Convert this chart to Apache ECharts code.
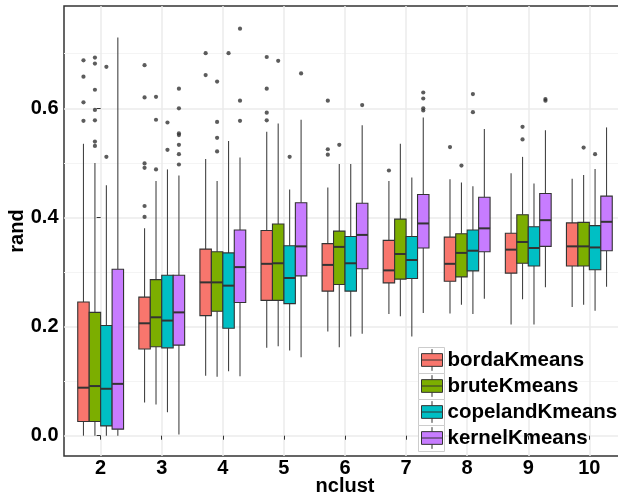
<!DOCTYPE html>
<html><head><meta charset="utf-8">
<script src="https://cdn.jsdelivr.net/npm/echarts@6/dist/echarts.min.js"></script>
<style>html,body{margin:0;padding:0;background:#fff}#c{width:618px;height:500px}</style>
</head><body><div id="c"></div>
<script>
const categories = ['2','3','4','5','6','7','8','9','10'];
const methods = ['bordaKmeans','bruteKmeans','copelandKmeans','kernelKmeans'];
const colors = ['#F8766D','#7CAE00','#00BFC4','#C77CFF'];
const yTicks = [0, 0.2, 0.4, 0.6];
const yMinorTicks = [0.1, 0.3, 0.5, 0.7];

// per category: [lower whisker, Q1, median, Q3, upper whisker]
const bordaStats = [
  [0.000,0.026,0.088,0.245,0.535],[0.061,0.159,0.206,0.254,0.380],[0.110,0.220,0.281,0.342,0.507],
  [0.161,0.248,0.315,0.376,0.557],[0.191,0.265,0.313,0.352,0.455],[0.223,0.280,0.303,0.358,0.467],
  [0.224,0.283,0.315,0.364,0.470],[0.204,0.298,0.341,0.371,0.481],[0.236,0.311,0.347,0.390,0.471]];
const bruteStats = [
  [0.000,0.026,0.091,0.226,0.500],[0.057,0.163,0.217,0.286,0.467],[0.108,0.228,0.281,0.337,0.467],
  [0.164,0.248,0.316,0.388,0.572],[0.162,0.277,0.346,0.375,0.498],[0.219,0.287,0.333,0.397,0.535],
  [0.240,0.291,0.335,0.370,0.464],[0.250,0.316,0.355,0.405,0.511],[0.240,0.311,0.347,0.391,0.478]];
const copelandStats = [
  [0.000,0.018,0.086,0.202,0.459],[0.043,0.161,0.211,0.294,0.488],[0.118,0.197,0.275,0.335,0.540],
  [0.156,0.242,0.289,0.348,0.451],[0.182,0.265,0.316,0.365,0.498],[0.182,0.288,0.322,0.365,0.473],
  [0.223,0.302,0.339,0.377,0.457],[0.204,0.311,0.344,0.383,0.462],[0.229,0.304,0.345,0.385,0.489]];
const kernelStats = [
  [0.000,0.012,0.095,0.305,0.730],[0.002,0.166,0.226,0.294,0.477],[0.109,0.244,0.309,0.377,0.510],
  [0.144,0.293,0.347,0.427,0.579],[0.187,0.306,0.368,0.426,0.569],[0.225,0.344,0.389,0.442,0.583],
  [0.251,0.337,0.380,0.437,0.562],[0.272,0.347,0.395,0.444,0.560],[0.273,0.339,0.392,0.439,0.565]];

// outliers: [category, value]
const bordaOutliers = [['2',0.688],['2',0.658],['2',0.611],['2',0.577],
  ['3',0.679],['3',0.620],['3',0.499],['3',0.491],['3',0.421],['3',0.401],
  ['4',0.701],['4',0.661],['5',0.694],['5',0.636],['5',0.592],['5',0.578],
  ['6',0.614],['6',0.525],['6',0.515],['7',0.486],['8',0.529]];
const bruteOutliers = [['2',0.693],['2',0.682],['2',0.634],['2',0.597],['2',0.578],['2',0.539],['2',0.531],
  ['3',0.621],['3',0.579],['3',0.488],['4',0.649],['4',0.575],['4',0.546],['4',0.521],
  ['5',0.687],['6',0.533],['8',0.495],['9',0.566],['9',0.543],['10',0.528]];
const copelandOutliers = [['2',0.676],['2',0.511],['3',0.574],['3',0.524],['4',0.701],
  ['5',0.511],['8',0.626],['8',0.593],['10',0.516]];
const kernelOutliers = [['3',0.636],['3',0.600],['3',0.554],['3',0.551],['3',0.533],['3',0.516],['3',0.497],
  ['4',0.746],['4',0.614],['4',0.577],['5',0.664],['6',0.606],
  ['7',0.629],['7',0.618],['7',0.600],['7',0.596],['9',0.617],['9',0.614]];

const allStats = [bordaStats, bruteStats, copelandStats, kernelStats];
const allOutliers = [bordaOutliers, bruteOutliers, copelandOutliers, kernelOutliers];

const BOX_W = 0.1875;
const FONT = 'Liberation Sans';
const catIdx = categories.map((c, i) => i);

function boxRenderer(k) {
  return function (params, api) {
    const x = api.value(0) + (k - 1.5) * BOX_W;
    const low = api.coord([x, api.value(1)]);
    const q1 = api.coord([x, api.value(2)]);
    const med = api.coord([x, api.value(3)]);
    const q3 = api.coord([x, api.value(4)]);
    const high = api.coord([x, api.value(5)]);
    const w = api.size([BOX_W, 0])[0];
    const cx = low[0];
    return {
      type: 'group',
      children: [
        {type: 'line', shape: {x1: cx, y1: high[1], x2: cx, y2: q3[1]}, style: {stroke: '#444', lineWidth: 1.1}},
        {type: 'line', shape: {x1: cx, y1: q1[1], x2: cx, y2: low[1]}, style: {stroke: '#444', lineWidth: 1.1}},
        {type: 'rect', shape: {x: cx - w / 2, y: q3[1], width: w, height: q1[1] - q3[1]},
          style: {fill: colors[k], stroke: '#333', lineWidth: 1.1}},
        {type: 'line', shape: {x1: cx - w / 2, y1: med[1], x2: cx + w / 2, y2: med[1]}, style: {stroke: '#333', lineWidth: 2}}
      ]
    };
  };
}

const series = [];
methods.forEach((m, k) => {
  series.push({
    name: m, type: 'custom', renderItem: boxRenderer(k),
    itemStyle: {color: colors[k], borderColor: '#333', borderWidth: 1},
    encode: {x: 0, y: [1, 2, 3, 4, 5]},
    data: allStats[k].map((s, i) => [i].concat(s)),
    silent: true, z: 2
  });
});
methods.forEach((m, k) => {
  series.push({
    name: m + ' outliers', type: 'scatter', symbolSize: 4.2,
    itemStyle: {color: '#333'}, silent: true, z: 3,
    data: allOutliers[k].map(([c, v]) => [categories.indexOf(c) + (k - 1.5) * BOX_W, v])
  });
});

const chart = echarts.init(document.getElementById('c'), null, {renderer: 'canvas'});
chart.setOption({
  animation: false,
  backgroundColor: '#fff',
  grid: {left: 64, top: 6, right: -8, bottom: 44, show: true, borderColor: '#333', borderWidth: 1.5,
    backgroundColor: 'transparent', containLabel: false, outerBoundsMode: 'none'},
  xAxis: {
    type: 'value', min: -0.6, max: 8.6,
    name: 'nclust', nameLocation: 'middle', nameGap: 20, nameMoveOverlap: false,
    nameTextStyle: {fontFamily: FONT, fontWeight: 'bold', fontSize: 20, color: '#000'},
    axisLine: {show: false},
    axisTick: {show: true, customValues: catIdx, length: 4, lineStyle: {color: '#333', width: 1}},
    axisLabel: {customValues: catIdx, formatter: v => categories[Math.round(v)], margin: 2,
      fontFamily: FONT, fontWeight: 'bold', fontSize: 20, color: '#000'},
    splitLine: {show: true, lineStyle: {color: '#EBEBEB', width: 1.5}}
  },
  yAxis: [{
    type: 'value', min: -0.0372, max: 0.7875,
    name: 'rand', nameLocation: 'middle', nameGap: 37, nameMoveOverlap: false,
    nameTextStyle: {fontFamily: FONT, fontWeight: 'bold', fontSize: 20, color: '#000'},
    axisLine: {show: false},
    axisTick: {show: true, customValues: yTicks, length: 4, lineStyle: {color: '#333', width: 1}},
    axisLabel: {customValues: yTicks, formatter: v => v.toFixed(1), margin: 5.5,
      fontFamily: FONT, fontWeight: 'bold', fontSize: 20, color: '#000'},
    splitLine: {show: true, lineStyle: {color: '#EBEBEB', width: 1.5}}
  }, {
    type: 'value', min: -0.0372, max: 0.7875, position: 'left',
    axisLine: {show: false}, axisTick: {show: false, customValues: yMinorTicks},
    axisLabel: {show: false, customValues: yMinorTicks},
    splitLine: {show: true, lineStyle: {color: '#F4F4F4', width: 1}}
  }],
  legend: {
    orient: 'vertical', left: 421, top: 347, itemGap: 0, itemWidth: 21, itemHeight: 26, padding: 0,
    selectedMode: false,
    icon: 'path://M0,4.5H21V17.2H0Z M0,10.85H21 M10.5,0V4.5 M10.5,17.2V21.7',
    textStyle: {fontFamily: FONT, fontWeight: 'bold', fontSize: 20.5, color: '#000', lineHeight: 26},
    data: methods.map((m, k) => ({name: m, itemStyle: {color: colors[k], borderColor: '#333', borderWidth: 1}}))
  },
  graphic: methods.map((m, k) => ({
    type: 'rect', z: 3, silent: true, left: 418, top: 347 + 26 * k,
    shape: {width: 26, height: 26},
    style: {fill: '#fff', stroke: '#CCCCCC', lineWidth: 1}
  })),
  series: series
});
</script></body></html>
